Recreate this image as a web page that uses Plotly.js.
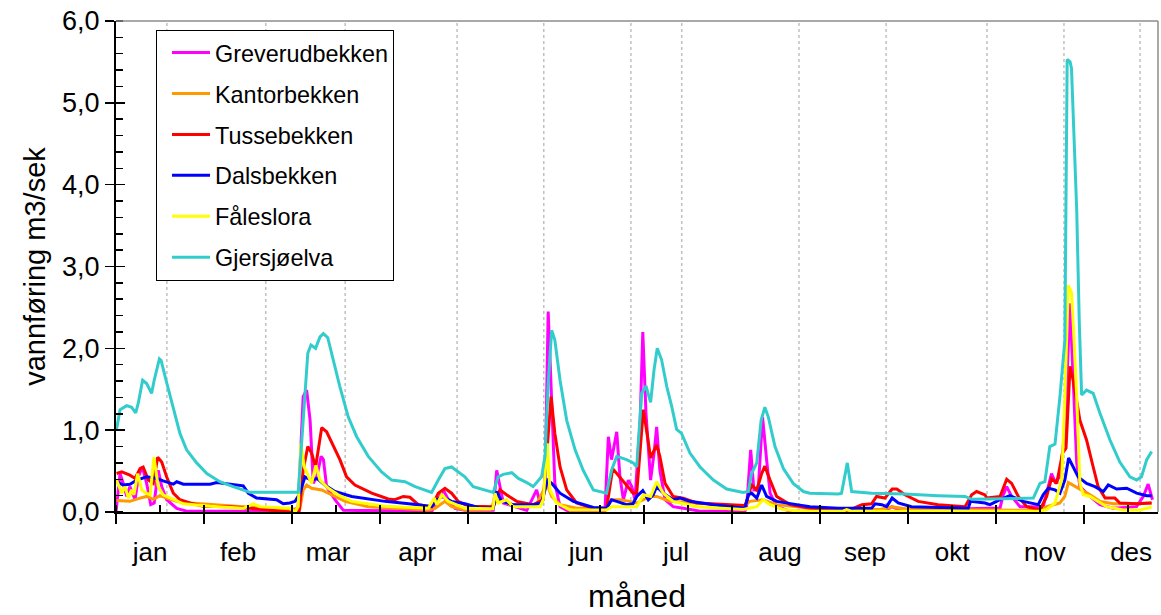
<!DOCTYPE html>
<html>
<head>
<meta charset="utf-8">
<script src="https://cdn.plot.ly/plotly-3.0.1.min.js"></script>
<style>
  html, body { margin: 0; padding: 0; background: #ffffff; }
  #chart { width: 1161px; height: 615px; }
</style>
</head>
<body>
<div id="chart"></div>
<script>
// ---- data: [day of year, discharge m3/s] ----
const greverudbekken = [[0,0],[1.4,0.47],[2.5,0.35],[3.7,0.19],[4.8,0.31],[6.6,0.15],[7.7,0.43],[9.1,0.55],[10.6,0.35],[12.0,0.09],[13.2,0.11],[14.6,0.51],[15.8,0.31],[17.5,0.15],[21.0,0.045],[24.4,0.01],[62.9,0.01],[64.7,1.41],[65.9,1.49],[67.1,1.12],[68.2,0.35],[69.4,0.43],[70.9,0.68],[71.7,0.64],[72.8,0.31],[75.7,0.15],[78.6,0.02],[109.2,0.01],[111.4,0.15],[113.1,0.27],[114.9,0.15],[117.2,0.045],[120.6,0.02],[130.4,0.02],[131.6,0.51],[132.7,0.31],[133.9,0.11],[142.0,0.02],[145.4,0.27],[146.6,0.11],[148.3,0.31],[149.4,2.45],[150.6,1.37],[151.7,0.35],[153.5,0.065],[156.9,0],[169.0,0],[170.2,0.92],[171.3,0.64],[173.1,0.98],[174.2,0.43],[175.4,0.15],[177.1,0.39],[178.3,0.31],[179.4,0.15],[181.2,1.12],[182.1,2.20],[183.2,1.21],[184.8,0.39],[186.0,0.72],[186.9,1.04],[188.0,0.51],[189.8,0.15],[192.6,0.065],[196.1,0.045],[201.9,0.01],[217.4,0.01],[218.0,0.065],[219.4,0.76],[220.5,0.27],[222.0,0.27],[223.5,1.16],[224.9,0.64],[226.1,0.23],[228.4,0.065],[233.0,0.01],[265.8,0.01],[268.2,0.065],[271.0,0.02],[305.6,0.05],[306.7,0.21],[307.9,0.31],[309.6,0.19],[312.5,0.065],[320.5,0.065],[322.3,0.31],[323.4,0.47],[324.6,0.37],[326.3,0.43],[328.0,1.0],[329.8,2.55],[330.9,1.61],[332.1,0.6],[333.2,0.31],[336.7,0.19],[340.1,0.09],[344.7,0.045],[352.8,0.065],[355.1,0.19],[356.8,0.34],[358.3,0.15]];

const kantorbekken = [[0.2,0.14],[4.8,0.13],[8.3,0.17],[10.6,0.19],[12.9,0.155],[15.2,0.20],[17.5,0.17],[21.0,0.13],[25.6,0.11],[32.5,0.09],[44.0,0.065],[52.1,0.045],[60.1,0.03],[63.6,0.045],[64.7,0.27],[65.9,0.33],[67.6,0.29],[71.1,0.27],[74.6,0.21],[79.2,0.13],[87.2,0.065],[98.8,0.045],[108.0,0.025],[110.3,0.045],[112.0,0.09],[113.7,0.13],[116.0,0.065],[120.6,0.025],[129.3,0.03],[130.4,0.11],[132.7,0.15],[136.2,0.09],[145.4,0.09],[148.9,0.35],[150.6,0.19],[153.5,0.09],[159.2,0.045],[169.6,0.045],[171.3,0.15],[174.2,0.15],[177.7,0.13],[180.0,0.11],[184.6,0.19],[186.9,0.19],[191.5,0.13],[200.7,0.11],[216.8,0.065],[219.1,0.13],[223.7,0.15],[228.4,0.09],[239.9,0.045],[264.1,0.03],[268.2,0.065],[274.5,0.03],[319.4,0.02],[321.7,0.065],[326.3,0.11],[328.0,0.19],[329.2,0.36],[330.9,0.33],[333.2,0.28],[336.7,0.21],[340.1,0.13],[344.7,0.10],[350.5,0.10],[358.0,0.11]];

const tussebekken = [[0.2,0.47],[2.0,0.49],[4.8,0.45],[6.6,0.41],[8.3,0.53],[9.4,0.55],[11.2,0.39],[12.9,0.35],[14.4,0.67],[15.8,0.61],[17.5,0.43],[19.8,0.23],[22.1,0.15],[25.6,0.11],[30.2,0.07],[39.4,0.065],[46.3,0.045],[52.1,0.025],[60.1,0],[63.3,0],[64.7,0.51],[66.3,0.80],[67.6,0.72],[69.0,0.55],[71.1,1.03],[72.8,0.98],[75.1,0.80],[77.4,0.64],[79.7,0.43],[82.6,0.33],[88.4,0.23],[94.1,0.16],[96.4,0.15],[99.3,0.19],[101.6,0.18],[104.5,0.09],[109.1,0.065],[111.4,0.23],[113.7,0.29],[116.0,0.23],[118.3,0.13],[120.6,0.09],[123.5,0.07],[130.4,0.065],[132.7,0.27],[135.0,0.21],[138.5,0.13],[144.2,0.09],[147.7,0.15],[149.4,0.96],[150.4,1.41],[151.7,0.96],[153.5,0.55],[155.8,0.27],[159.2,0.11],[165.0,0.045],[169.6,0.045],[171.7,0.53],[173.6,0.45],[176.5,0.33],[178.8,0.23],[180.0,0.23],[181.2,0.72],[182.3,1.25],[183.4,1.0],[184.8,0.66],[186.9,0.82],[188.0,0.68],[189.8,0.35],[192.6,0.19],[196.1,0.17],[200.7,0.11],[217.4,0.08],[218.0,0.13],[219.7,0.33],[221.5,0.27],[223.2,0.47],[224.3,0.56],[226.1,0.39],[228.4,0.19],[233.0,0.09],[239.9,0.045],[253.7,0.025],[257.8,0.09],[261.2,0.10],[262.9,0.19],[265.8,0.17],[268.3,0.28],[269.9,0.28],[272.7,0.21],[277.3,0.13],[284.2,0.09],[293.5,0.065],[295.8,0.21],[297.5,0.25],[300.4,0.21],[301.0,0.17],[305.6,0.19],[307.9,0.40],[309.6,0.35],[311.9,0.19],[314.8,0.065],[319.4,0.025],[321.7,0.19],[323.4,0.41],[325.2,0.35],[327.2,0.72],[328.4,0.78],[329.8,1.78],[330.9,1.61],[333.2,1.12],[335.5,0.88],[337.8,0.55],[339.5,0.31],[341.9,0.17],[345.3,0.17],[347.0,0.11],[352.8,0.10],[358.0,0.11]];

const dalsbekken = [[0.2,0.37],[2.5,0.33],[4.8,0.34],[7.2,0.39],[10.6,0.43],[14.1,0.41],[16.3,0.38],[19.8,0.34],[21.0,0.37],[23.3,0.34],[27.9,0.34],[32.5,0.34],[34.8,0.36],[39.4,0.34],[44.0,0.32],[45.7,0.23],[48.6,0.17],[55.5,0.15],[57.8,0.10],[60.1,0.11],[61.9,0.13],[63.6,0.23],[65.3,0.43],[67.6,0.39],[69.4,0.41],[72.2,0.33],[75.7,0.25],[81.5,0.19],[93.0,0.13],[104.5,0.09],[109.1,0.065],[110.9,0.15],[112.6,0.19],[116.0,0.13],[120.6,0.10],[125.8,0.05],[130.4,0.05],[131.6,0.25],[133.3,0.13],[137.3,0.09],[144.2,0.09],[147.1,0.11],[148.3,0.27],[149.2,0.39],[150.6,0.35],[153.5,0.23],[158.1,0.13],[165.0,0.055],[169.6,0.045],[171.3,0.15],[173.1,0.13],[176.5,0.09],[178.7,0.10],[180.0,0.19],[182.1,0.26],[184.0,0.15],[185.7,0.21],[186.9,0.31],[189.2,0.23],[192.6,0.15],[195.0,0.17],[198.4,0.13],[206.5,0.09],[217.4,0.045],[218.6,0.21],[219.7,0.23],[221.5,0.17],[223.2,0.33],[224.9,0.19],[228.4,0.13],[235.3,0.09],[239.9,0.065],[249.7,0.045],[261.2,0.045],[262.4,0.10],[264.7,0.09],[266.4,0.065],[268.3,0.17],[270.4,0.11],[275.0,0.065],[294.6,0.045],[295.4,0.13],[300.4,0.11],[302.1,0.09],[305.6,0.15],[309.0,0.20],[313.6,0.13],[318.8,0.09],[320.5,0.21],[322.3,0.29],[324.6,0.27],[326.3,0.23],[328.0,0.39],[329.3,0.66],[330.9,0.55],[332.6,0.43],[335.5,0.35],[338.4,0.31],[341.3,0.25],[343.0,0.33],[345.9,0.28],[349.4,0.29],[352.8,0.23],[356.3,0.20],[358.0,0.20]];

const faleslora = [[0.2,0.39],[2.0,0.23],[3.1,0.31],[4.3,0.17],[5.4,0.27],[6.2,0.21],[7.5,0.47],[8.9,0.27],[10.4,0.23],[11.8,0.21],[13.1,0.67],[14.6,0.31],[16.3,0.21],[18.7,0.17],[23.3,0.10],[32.5,0.07],[44.0,0.045],[47.5,0.10],[49.8,0.065],[60.1,0.045],[61.9,0],[63.0,0.065],[63.9,0.84],[65.1,0.55],[66.5,0.43],[67.6,0.35],[69.1,0.57],[70.5,0.39],[73.4,0.29],[76.8,0.21],[81.5,0.13],[93.0,0.07],[108.0,0.045],[110.0,0.17],[110.9,0.09],[112.6,0.21],[114.9,0.13],[120.6,0.045],[130.3,0.04],[131.0,0.23],[132.1,0.11],[135.0,0.15],[137.3,0.065],[146.6,0.065],[147.7,0.155],[149.1,0.84],[150.0,0.27],[152.3,0.11],[156.9,0.025],[169.6,0.025],[171.3,0.065],[180.0,0.065],[182.3,0.21],[184.8,0.19],[186.9,0.37],[189.2,0.23],[192.6,0.13],[200.7,0.065],[216.8,0.03],[221.5,0.065],[223.7,0.15],[226.1,0.09],[230.7,0.03],[236.4,0.01],[251.3,0.01],[252.6,0.03],[254.1,0.01],[319.4,0.01],[321.7,0.03],[324.6,0.11],[326.9,0.39],[328.0,1.41],[329.2,2.77],[330.3,2.68],[330.9,2.31],[332.1,1.41],[333.2,0.35],[334.4,0.21],[336.7,0.19],[339.5,0.13],[342.4,0.065],[348.2,0.025],[354.0,0.025],[358.0,0.06]];

const gjersjoelvaDays = [0.2,1.4,3.7,5.4,6.8,7.7,9.2,10.6,12.3,13.2,15.0,15.6,17.3,19.3,20.4,22.1,24.4,27.9,31.4,35.9,40.5,45.2,46.3,63.0,64.7,66.3,67.4,69.0,70.5,71.7,73.2,75.1,77.4,80.3,83.2,87.2,91.8,95.3,99.9,103.4,109.1,111.4,113.7,116.0,118.3,120.6,123.5,127.0,130.4,132.1,133.9,136.8,139.1,142.0,144.2,147.1,148.3,149.4,150.6,151.7,153.5,155.8,158.7,161.5,165.0,169.6,171.3,173.1,176.5,178.8,180.0,181.7,183.2,184.8,186.0,187.1,188.6,190.4,192.1,193.8,195.5,198.4,201.9,206.5,211.1,216.8,218.6,219.7,221.5,223.0,224.3,225.5,227.8,230.7,234.1,237.6,239.9,249.7,250.8,252.8,254.3,261.2,272.7,284.2,293.5,295.8,317.1,319.4,321.1,322.8,324.6,326.3,328.0,328.8,329.8,330.3,332.1,333.0,333.8,335.5,337.8,340.1,343.6,347.0,350.5,352.8,354.5,356.3,358.0];
const gjersjoelvaFlow = [1.01,1.25,1.30,1.28,1.21,1.33,1.61,1.57,1.45,1.61,1.87,1.85,1.61,1.33,1.21,0.96,0.76,0.60,0.47,0.37,0.31,0.25,0.24,0.24,1.12,1.94,2.04,2.00,2.14,2.18,2.13,1.86,1.53,1.16,0.92,0.68,0.49,0.39,0.37,0.31,0.24,0.39,0.53,0.55,0.49,0.43,0.31,0.27,0.24,0.43,0.46,0.48,0.41,0.36,0.31,0.43,0.68,1.57,2.22,2.10,1.61,1.12,0.76,0.51,0.27,0.23,0.51,0.68,0.64,0.60,0.55,1.45,1.54,1.34,1.74,2.00,1.86,1.53,1.29,1.01,0.96,0.72,0.55,0.39,0.28,0.24,0.25,0.47,0.60,1.12,1.28,1.16,0.80,0.53,0.35,0.25,0.23,0.22,0.23,0.60,0.25,0.23,0.22,0.20,0.19,0.155,0.17,0.35,0.37,0.80,0.83,1.41,2.10,5.53,5.50,5.42,3.69,2.31,1.43,1.49,1.45,1.21,0.88,0.61,0.43,0.39,0.43,0.64,0.74];

const seriesNames = ['Greverudbekken','Kantorbekken','Tussebekken','Dalsbekken','Fåleslora','Gjersjøelva'];
const seriesColors = ['#FF00FF','#FF9900','#FF0000','#0000FF','#FFFF00','#33CCCC'];

const monthNames = ['jan','feb','mar','apr','mai','jun','jul','aug','sep','okt','nov','des'];
const monthLabelDays = [11.8,42.2,73.3,104.1,133.4,162.5,193.6,229.5,258.9,289.0,321.1,350.9];
const gridDays = [17.6,51.8,79.2,117.9,147.9,178.0,195.6,236.1,266.2,301.1,327.7,354.0];

// ---- build traces ----
const pairSeries = [greverudbekken, kantorbekken, tussebekken, dalsbekken, faleslora];
const traces = [];
pairSeries.forEach((s, i) => {
  traces.push({
    type: 'scatter', mode: 'lines',
    x: s.map(p => p[0]), y: s.map(p => p[1]),
    name: seriesNames[i], legendgroup: 'g' + i,
    line: { color: seriesColors[i], width: 3 },
    hoverinfo: 'skip'
  });
});
traces.push({
  type: 'scatter', mode: 'lines',
  x: gjersjoelvaDays, y: gjersjoelvaFlow,
  name: seriesNames[5], legendgroup: 'g5',
  line: { color: seriesColors[5], width: 3 },
  hoverinfo: 'skip'
});
// empty helper trace so the overlay axes (month labels / crossing ticks) are drawn
traces.push({ type: 'scatter', mode: 'lines', x: [], y: [], xaxis: 'x2', yaxis: 'y2', showlegend: false, hoverinfo: 'skip' });

const shapes = gridDays.map(d => ({
  type: 'line', xref: 'x', yref: 'paper', x0: d, x1: d, y0: 0, y1: 1,
  line: { color: '#a0a0a0', width: 1, dash: 'dot' }, layer: 'below'
}));
shapes.push({ type: 'line', xref: 'paper', yref: 'paper', x0: 0, x1: 1, y0: 1, y1: 1, line: { color: '#8c8c8c', width: 1.5 } });
shapes.push({ type: 'line', xref: 'paper', yref: 'paper', x0: 1, x1: 1, y0: 0, y1: 1, line: { color: '#8c8c8c', width: 1.5 } });

const xRange = [0, 360.2];
const layout = {
  width: 1161, height: 615,
  margin: { l: 116, r: 3, t: 21, b: 103 },
  paper_bgcolor: '#ffffff', plot_bgcolor: '#ffffff',
  font: { family: '"Liberation Sans", Arial, sans-serif', color: '#000000' },
  separators: ', ',
  showlegend: true,
  legend: {
    x: 0.0384, y: 0.982, xanchor: 'left', yanchor: 'top',
    bgcolor: '#ffffff', bordercolor: '#000000', borderwidth: 1,
    font: { size: 23.4 }, traceorder: 'grouped', tracegroupgap: 7.5,
    indentation: 10, itemwidth: 38
  },
  xaxis: {
    range: xRange, tickmode: 'linear', tick0: 0, dtick: 365 / 12,
    ticks: 'outside', ticklen: 10, tickwidth: 1.5, tickcolor: '#000000',
    showticklabels: false, showgrid: false, zeroline: false,
    showline: true, linecolor: '#000000', linewidth: 2,
    minor: { tick0: 0, dtick: 365 / 24, ticks: 'inside', ticklen: 7, tickwidth: 1.5, tickcolor: '#000000', showgrid: false },
    automargin: false
  },
  xaxis2: {
    overlaying: 'x', anchor: 'y', side: 'bottom', range: xRange,
    tickmode: 'array', tickvals: monthLabelDays, ticktext: monthNames,
    ticks: 'outside', ticklen: 17, tickcolor: 'rgba(0,0,0,0)',
    tickfont: { size: 26 }, showgrid: false, zeroline: false, showline: false,
    title: { text: 'måned', font: { size: 32 }, standoff: 18 },
    automargin: false
  },
  yaxis: {
    range: [0, 6], tickmode: 'linear', tick0: 0, dtick: 1, tickformat: '.1f',
    ticks: 'outside', ticklen: 9, tickwidth: 1.5, tickcolor: '#000000',
    tickfont: { size: 27 }, showgrid: false, zeroline: false,
    showline: true, linecolor: '#000000', linewidth: 2,
    minor: { dtick: 0.2, ticks: 'inside', ticklen: 7, tickwidth: 1.5, tickcolor: '#000000', showgrid: false },
    title: { text: 'vannføring m3/sek', font: { size: 29 }, standoff: 8 },
    automargin: false
  },
  yaxis2: {
    overlaying: 'y', anchor: 'x', side: 'left', range: [0, 6],
    tickmode: 'linear', tick0: 0, dtick: 1,
    ticks: 'inside', ticklen: 9, tickwidth: 1.5, tickcolor: '#000000',
    showticklabels: false, showgrid: false, zeroline: false, showline: false,
    automargin: false
  },
  shapes: shapes
};

Plotly.newPlot('chart', traces, layout, { displayModeBar: false, staticPlot: true });
</script>
</body>
</html>
